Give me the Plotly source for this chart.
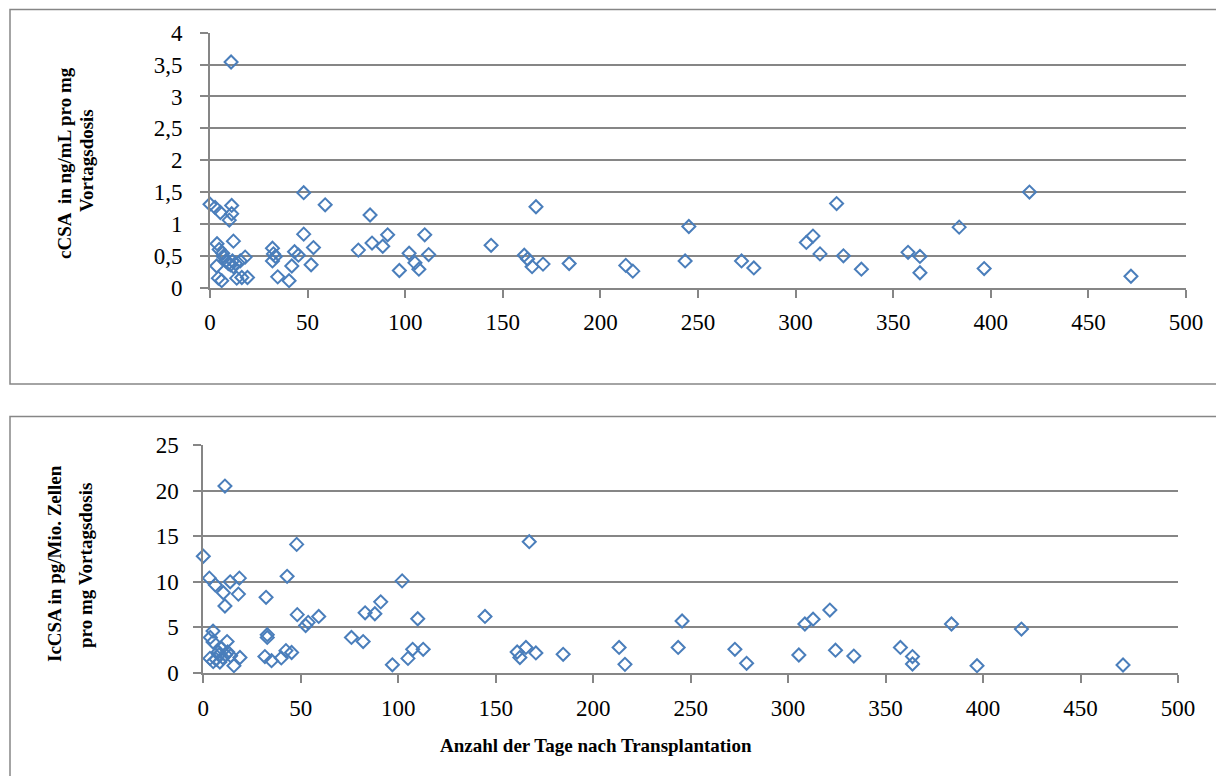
import plotly.graph_objects as go

W, H = 1216, 776

# ---------- data ----------
days_c = [0, 2.6, 5.3, 10.8, 11.1, 11.1, 9.9, 12, 3.6, 4.7, 6.5, 6.8, 18, 15.5, 9.4, 8,
          10.5, 12, 11.5, 13, 3.4, 4.3, 6, 13.7, 16.3, 19.2,
          32, 32.5, 33.5, 32, 34.7, 40.5, 41.9, 43.3, 45.3, 48, 48, 51.8, 53, 59,
          76, 82, 83, 88.5, 91, 97, 102, 105, 107, 110, 112,
          144, 161, 162.7, 165, 167, 170.6, 184, 213, 216.6, 243.4, 245.3, 272.3, 278.6,
          305.5, 308.9, 312.5, 321, 324.5, 333.7, 357.6, 363.7, 363.7, 383.8, 396.6,
          419.8, 471.8]
ccsa = [1.31, 1.26, 1.18, 3.54, 1.29, 1.16, 1.06, 0.73, 0.69, 0.60, 0.54, 0.49, 0.48, 0.42, 0.38, 0.42,
        0.36, 0.33, 0.42, 0.38, 0.34, 0.15, 0.11, 0.15, 0.16, 0.16,
        0.62, 0.53, 0.49, 0.42, 0.17, 0.11, 0.34, 0.565, 0.51, 1.49, 0.84, 0.36, 0.63, 1.30,
        0.59, 1.14, 0.70, 0.65, 0.83, 0.27, 0.54, 0.39, 0.29, 0.83, 0.52,
        0.665, 0.51, 0.45, 0.33, 1.27, 0.37, 0.38, 0.35, 0.26, 0.42, 0.96, 0.42, 0.31,
        0.71, 0.81, 0.53, 1.32, 0.50, 0.29, 0.555, 0.49, 0.235, 0.95, 0.30,
        1.50, 0.18]

days_ic = [0, 3.1, 6.2, 10.3, 11.1, 11.1, 13.8, 18.5, 18, 5, 3.6, 5, 12.2, 3.4, 5.1, 7.7,
           9.4, 8, 10, 11.5, 12.5, 6.5, 15.7, 18.8, 14, 8.5,
           32.2, 43, 47.9, 32.8, 32.8, 31.6, 35, 40, 42.4, 45.3, 48.2, 52.5, 53.8, 59.2,
           76, 82, 83, 88, 91, 97, 102, 105, 107.4, 110, 112.8,
           144.5, 161, 162.4, 165.5, 167.2, 170.6, 184.6, 213.3, 216.3, 243.6, 245.6, 272.7,
           278.7, 305.5, 308.6, 312.8, 321.4, 324.3, 333.7, 357.6, 363.8, 363.8, 383.8,
           396.9, 419.7, 471.8]
iccsa = [12.8, 10.4, 9.65, 8.8, 7.35, 20.5, 10.0, 10.4, 8.65, 4.6, 3.9, 3.4, 3.45, 1.6, 1.25, 2.3,
         2.7, 2.0, 1.7, 2.0, 2.3, 1.5, 0.8, 1.7, 1.9, 1.2,
         8.3, 10.6, 14.1, 4.2, 3.9, 1.8, 1.35, 1.65, 2.45, 2.25, 6.4, 5.2, 5.55, 6.2,
         3.9, 3.45, 6.6, 6.5, 7.8, 0.9, 10.1, 1.6, 2.6, 5.95, 2.6,
         6.2, 2.3, 1.7, 2.8, 14.4, 2.2, 2.05, 2.8, 0.95, 2.8, 5.7, 2.6,
         1.06, 1.97, 5.37, 5.9, 6.9, 2.5, 1.86, 2.8, 1.8, 0.99, 5.37,
         0.8, 4.82, 0.88]

x_ticks = [0, 50, 100, 150, 200, 250, 300, 350, 400, 450, 500]
y1_ticks = [0, 0.5, 1, 1.5, 2, 2.5, 3, 3.5, 4]
y1_labels = ["0", "0,5", "1", "1,5", "2", "2,5", "3", "3,5", "4"]
y2_ticks = [0, 5, 10, 15, 20, 25]

# ---------- styling ----------
BLUE = "#4a7ebb"
GRID = "#868686"
FONT = "Liberation Serif, Times New Roman, serif"

def px_x(p):
    return p / W

def px_y(p):
    return 1 - p / H

fig = go.Figure()
marker = dict(symbol="diamond-open", size=10, color=BLUE, line=dict(color=BLUE, width=2))
fig.add_trace(go.Scatter(x=days_c, y=ccsa, mode="markers", marker=marker,
                         xaxis="x", yaxis="y", showlegend=False, cliponaxis=False))
fig.add_trace(go.Scatter(x=days_ic, y=iccsa, mode="markers", marker=marker,
                         xaxis="x2", yaxis="y2", showlegend=False, cliponaxis=False))

axis_common = dict(showline=True, linecolor=GRID, linewidth=1.8, ticks="outside",
                   ticklen=8, tickcolor=GRID, tickwidth=1.8, zeroline=False,
                   automargin=False,
                   tickfont=dict(family=FONT, size=23, color="#000"))

fig.update_layout(
    width=W, height=H, margin=dict(l=0, r=0, t=0, b=0, pad=0, autoexpand=False),
    paper_bgcolor="white", plot_bgcolor="white",
    font=dict(family=FONT),
    xaxis=dict(domain=[px_x(210), px_x(1186)], range=[0, 500], anchor="y",
               tickvals=x_ticks, showgrid=False, ticklabelstandoff=5, **axis_common),
    yaxis=dict(domain=[px_y(287.7), px_y(32.7)], range=[0, 4], anchor="x",
               tickvals=y1_ticks, ticktext=y1_labels, showgrid=True, gridcolor=GRID,
               gridwidth=1.8, ticklabelstandoff=13, **axis_common),
    xaxis2=dict(domain=[px_x(203.3), px_x(1178)], range=[0, 500], anchor="y2",
                tickvals=x_ticks, showgrid=False, ticklabelstandoff=5, **axis_common),
    yaxis2=dict(domain=[px_y(673), px_y(445)], range=[0, 25], anchor="x2",
                tickvals=y2_ticks, showgrid=True, gridcolor=GRID, gridwidth=1.8,
                ticklabelstandoff=10, **axis_common),
    shapes=[
        dict(type="rect", xref="paper", yref="paper", x0=px_x(10), x1=1.05,
             y0=px_y(384), y1=px_y(9.5), line=dict(color=GRID, width=1.5)),
        dict(type="rect", xref="paper", yref="paper", x0=px_x(10), x1=1.05,
             y0=-0.05, y1=px_y(416.5), line=dict(color=GRID, width=1.5)),
    ],
)

title_font = dict(family=FONT, size=19, color="#000")
ann = [
    ("<b>cCSA  in ng/mL pro mg</b>", 64, 163),
    ("<b>Vortagsdosis</b>", 87, 160),
    ("<b>IcCSA in pg/Mio. Zellen</b>", 54, 564),
    ("<b>pro mg Vortagsdosis</b>", 85, 566),
]
for txt, ax, ay in ann:
    fig.add_annotation(text=txt, xref="paper", yref="paper", x=px_x(ax), y=px_y(ay),
                       xanchor="center", yanchor="middle", textangle=-90,
                       showarrow=False, font=title_font)
fig.add_annotation(text="<b>Anzahl der Tage nach Transplantation</b>", xref="paper",
                   yref="paper", x=px_x(596), y=px_y(745), xanchor="center",
                   yanchor="middle", showarrow=False, font=title_font)

fig.write_html("out.html")
